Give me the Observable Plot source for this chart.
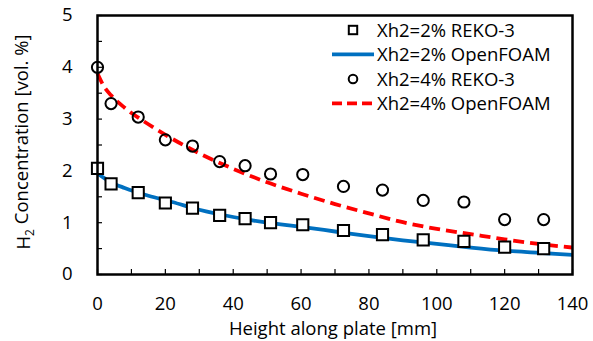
<!DOCTYPE html>
<html>
<head>
<meta charset="utf-8">
<script src="https://cdn.jsdelivr.net/npm/d3@7"></script>
<script src="https://cdn.jsdelivr.net/npm/@observablehq/plot@0.6"></script>
<style>
  html, body { margin: 0; padding: 0; background: #fff; }
  #chart { width: 593px; height: 341px; }
</style>
</head>
<body>
<div id="chart"></div>
<script>
// Experimental points (REKO-3)
const rekoX = [0, 4, 12, 20, 28, 36, 43.5, 51, 60.5, 72.5, 84, 96, 108, 120, 131.5];
const reko2 = [2.05, 1.75, 1.58, 1.38, 1.28, 1.14, 1.08, 1.00, 0.96, 0.85, 0.77, 0.67, 0.64, 0.53, 0.50];
const reko4 = [4.00, 3.30, 3.04, 2.60, 2.48, 2.18, 2.10, 1.94, 1.93, 1.70, 1.63, 1.43, 1.40, 1.06, 1.06];
// Simulation curves (OpenFOAM)
const foamX = [0, 2, 4, 8, 15, 22, 30, 40, 50, 60, 70, 80, 90, 100, 110, 120, 130, 140];
const foam2 = [1.95, 1.86, 1.78, 1.67, 1.52, 1.40, 1.25, 1.11, 1.00, 0.92, 0.83, 0.74, 0.66, 0.59, 0.52, 0.46, 0.42, 0.38];
const foam4 = [3.88, 3.62, 3.46, 3.22, 2.90, 2.62, 2.34, 2.04, 1.78, 1.56, 1.36, 1.18, 1.01, 0.88, 0.78, 0.68, 0.59, 0.52];
// Ticks
const xLabelTicks = [0, 20, 40, 60, 80, 100, 120, 140];
const xMinorTicks = d3.range(0, 141, 10);
const yLabelTicks = [0, 1, 2, 3, 4, 5];
const yMinorTicks = d3.range(0, 5.01, 0.5);
// Legend
const legendLabels = ["Xh2=2% REKO-3", "Xh2=2% OpenFOAM", "Xh2=4% REKO-3", "Xh2=4% OpenFOAM"];

const blue = "#0070C0";
const red = "#FF0000";
const font = "'Open Sans', Lato, sans-serif";
const fs = 18.5;

const pts2 = rekoX.map((x, i) => ({x, y: reko2[i]}));
const pts4 = rekoX.map((x, i) => ({x, y: reko4[i]}));
const line2 = foamX.map((x, i) => ({x, y: foam2[i]}));
const line4 = foamX.map((x, i) => ({x, y: foam4[i]}));

const plot = Plot.plot({
  width: 593,
  height: 341,
  marginLeft: 97,
  marginRight: 21,
  marginTop: 15,
  marginBottom: 67,
  style: {fontFamily: font, fontSize: fs + "px", color: "#000", background: "#fff", overflow: "visible"},
  x: {domain: [0, 140]},
  y: {domain: [0, 5]},
  marks: [
    Plot.axisX(xMinorTicks, {tickSize: -5, tickFormat: () => "", strokeWidth: 1.2, label: null}),
    Plot.axisY(yMinorTicks, {tickSize: -5, tickFormat: () => "", strokeWidth: 1.2, label: null}),
    Plot.axisX(xLabelTicks, {tickSize: 0, tickPadding: 22, tickFormat: d => String(d), fontSize: fs, label: null}),
    Plot.axisY(yLabelTicks, {tickSize: 0, tickPadding: 25, tickFormat: d => String(d), fontSize: fs, label: null}),
    Plot.line(line2, {x: "x", y: "y", stroke: blue, strokeWidth: 3.8, strokeLinecap: "butt", curve: "monotone-x"}),
    Plot.line(line4, {x: "x", y: "y", stroke: red, strokeWidth: 3.8, strokeLinecap: "butt", strokeDasharray: "11,6", curve: "monotone-x"}),
    Plot.dot(pts2, {x: "x", y: "y", symbol: "square", r: 6.3, stroke: "#000", strokeWidth: 2, fill: "#fff"}),
    Plot.dot(pts4, {x: "x", y: "y", symbol: "circle", r: 5.6, stroke: "#000", strokeWidth: 2, fill: "none"}),
    Plot.frame({stroke: "#000", strokeWidth: 2.5})
  ]
});

document.getElementById("chart").appendChild(plot);
const svg = d3.select(plot);

// Axis titles
svg.append("text")
  .attr("x", 333).attr("y", 335)
  .attr("text-anchor", "middle")
  .attr("font-family", font).attr("font-size", fs).attr("fill", "#000")
  .text("Height along plate [mm]");

const yl = svg.append("text")
  .attr("transform", "translate(30,142) rotate(-90)")
  .attr("text-anchor", "middle")
  .attr("font-family", font).attr("font-size", fs).attr("fill", "#000");
yl.append("tspan").text("H");
yl.append("tspan").attr("font-size", 12).attr("dy", "0.3em").text("2");
yl.append("tspan").attr("dy", "-0.3em").text(" Concentration [vol. %]");

// Legend
const rowsY = [30, 54.3, 79, 103.3];
const lg = svg.append("g").attr("font-family", font).attr("font-size", fs).attr("text-anchor", "start");
legendLabels.forEach((lab, i) => {
  const y = rowsY[i];
  if (i === 0) {
    lg.append("rect").attr("x", 353 - 4.2).attr("y", y - 4.2).attr("width", 8.4).attr("height", 8.4)
      .attr("fill", "#fff").attr("stroke", "#000").attr("stroke-width", 2);
  } else if (i === 2) {
    lg.append("circle").attr("cx", 353).attr("cy", y).attr("r", 4.3)
      .attr("fill", "none").attr("stroke", "#000").attr("stroke-width", 2);
  } else {
    lg.append("line").attr("x1", 332).attr("x2", 374).attr("y1", y).attr("y2", y)
      .attr("stroke", i === 1 ? blue : red).attr("stroke-width", 3.8)
      .attr("stroke-dasharray", i === 3 ? "10,5" : null);
  }
  lg.append("text").attr("x", 377).attr("y", y).attr("dy", "0.36em").attr("fill", "#000").text(lab);
});
</script>
</body>
</html>
